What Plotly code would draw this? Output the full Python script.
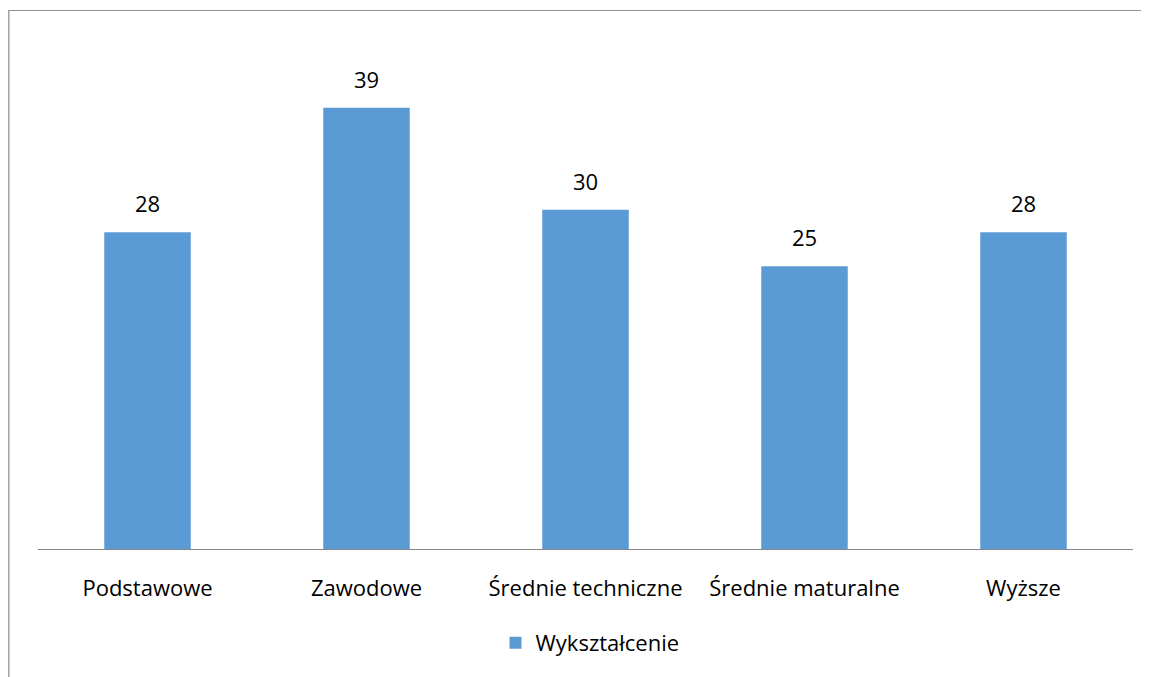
import plotly.graph_objects as go

categories = ["Podstawowe", "Zawodowe", "Średnie techniczne", "Średnie maturalne", "Wyższe"]
values = [28, 39, 30, 25, 28]
series_name = "Wykształcenie"

BAR = "#5B9BD5"
FONT = "Open Sans, Noto Sans, sans-serif"
FS = 22

# the page body adds an 8px offset, so pixel targets are shifted by -8
OFF = 8
W, H = 1149 - OFF, 677 - OFF
L, T = 38 - OFF, 40 - OFF
R = OFF + W - 1133
B = OFF + H - 549
pw, ph = W - L - R, H - T - B

fig = go.Figure()
fig.add_trace(go.Bar(x=categories, y=values, name=series_name,
                     marker=dict(color=BAR, line=dict(width=0)),
                     showlegend=True))

for c, v in zip(categories, values):
    fig.add_annotation(x=c, y=v, text=str(v), showarrow=False,
                       yanchor="bottom", yshift=12,
                       font=dict(size=FS, color="#000000", family=FONT))


def px_x(p):
    return (p - OFF - L) / pw


def px_y(p):
    return (H - B - (p - OFF)) / ph


# chart frame, only its top and left edges are visible in the crop
fig.add_shape(type="line", xref="paper", yref="paper",
              x0=px_x(8.5), x1=px_x(1170), y0=px_y(10.5), y1=px_y(10.5),
              line=dict(color="#8f8f8f", width=1.2))
fig.add_shape(type="line", xref="paper", yref="paper",
              x0=px_x(8.8), x1=px_x(8.8), y0=px_y(10), y1=px_y(700),
              line=dict(color="#a6a6a6", width=1.6))

fig.update_layout(
    width=W, height=H,
    margin=dict(l=L, r=R, t=T, b=B, pad=0),
    paper_bgcolor="white", plot_bgcolor="white",
    bargap=0.605,
    font=dict(family=FONT, size=FS, color="#000000"),
    xaxis=dict(showline=True, linecolor="#868686", linewidth=1.3,
               ticks="", showgrid=False, ticklabelstandoff=19,
               tickfont=dict(size=FS)),
    yaxis=dict(range=[0, 45], visible=False, showgrid=False, zeroline=False),
    legend=dict(orientation="h", x=px_x(590), xanchor="center",
                y=px_y(643), yanchor="middle",
                font=dict(size=FS), itemwidth=30),
)

fig.write_html("out.html")
